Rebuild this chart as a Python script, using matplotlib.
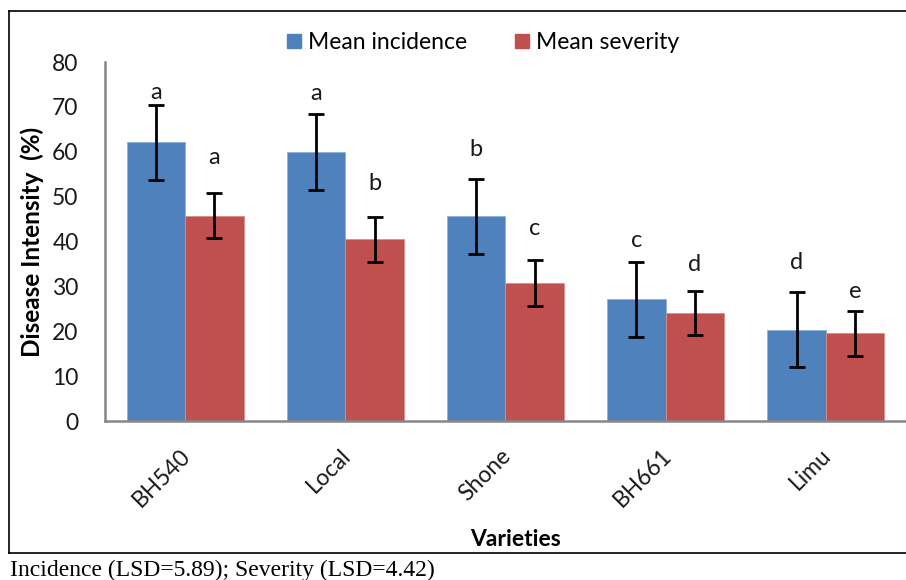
import numpy as np
import matplotlib.pyplot as plt
from matplotlib.lines import Line2D
from matplotlib.transforms import ScaledTranslation

varieties = ['BH540', 'Local', 'Shone', 'BH661', 'Limu']
incidence = [62.1, 60.0, 45.6, 27.1, 20.4]
incidence_err = [8.4, 8.5, 8.4, 8.4, 8.4]
severity = [45.8, 40.5, 30.7, 24.0, 19.6]
severity_err = [5.0, 5.0, 5.1, 4.9, 5.0]
inc_letters = ['a', 'a', 'b', 'c', 'd']
sev_letters = ['a', 'b', 'c', 'd', 'e']
inc_letter_y = [73.3, 73.0, 60.6, 40.3, 35.3]
sev_letter_y = [58.8, 53.0, 43.0, 35.0, 28.8]

plt.rcParams['font.family'] = ['Lato', 'DejaVu Sans']

fig = plt.figure(figsize=(9.06, 5.80), dpi=100)
ax = fig.add_axes([0.1159, 0.274, 0.884, 0.619])

x = np.arange(len(varieties))
w = 0.365
blue = '#4F81BD'
red = '#C0504D'
err_kw = dict(ecolor='black', elinewidth=2.0, capsize=6, capthick=2.0)

ax.bar(x - w / 2, incidence, w, color=blue, edgecolor='#8DB0DA', linewidth=0.6,
       yerr=incidence_err, error_kw=err_kw, label='Mean incidence')
ax.bar(x + w / 2, severity, w, color=red, edgecolor='#DB8C8A', linewidth=0.6,
       yerr=severity_err, error_kw=err_kw, label='Mean severity')

for i in range(len(varieties)):
    ax.text(x[i] - w / 2, inc_letter_y[i], inc_letters[i], ha='center', va='center',
            fontsize=17, color='#1a1a1a')
    ax.text(x[i] + w / 2, sev_letter_y[i], sev_letters[i], ha='center', va='center',
            fontsize=17, color='#1a1a1a')

ax.set_xlim(-0.5, 4.5)
ax.set_ylim(0, 80)
ax.set_yticks(range(0, 81, 10))
ax.set_xticks(x)
ax.set_xticklabels(varieties, rotation=45, ha='right', va='top', rotation_mode='anchor')
ax.tick_params(axis='both', length=0, labelsize=16.5, labelcolor='#1a1a1a')
ax.tick_params(axis='x', pad=17)
ax.tick_params(axis='y', pad=19)
shift = ScaledTranslation(-5 / 100, 0, fig.dpi_scale_trans)
for lbl in ax.get_xticklabels():
    lbl.set_transform(lbl.get_transform() + shift)

for s in ['top', 'right']:
    ax.spines[s].set_visible(False)
for s in ['left', 'bottom']:
    ax.spines[s].set_color('#868686')
    ax.spines[s].set_linewidth(1.8)

ax.set_ylabel('Disease Intensity  (%)', fontsize=17.5, fontweight='bold', labelpad=6)
ax.set_xlabel('Varieties', fontsize=16.5, fontweight='bold')
ax.xaxis.set_label_coords(0.512, -0.300)

handles = [Line2D([], [], marker='s', linestyle='none', markersize=10, color=blue),
           Line2D([], [], marker='s', linestyle='none', markersize=10, color=red)]
fig.legend(handles, ['Mean incidence', 'Mean severity'], loc='center',
           bbox_to_anchor=(0.532, 0.926), ncol=2, frameon=False, fontsize=16.5,
           handletextpad=0.2, columnspacing=2.0, handlelength=0.8)

# outer frame around the chart
fx0, fy0, fy1 = 9 / 906, 1 - 553 / 580, 1 - 11 / 580
fig.add_artist(Line2D([fx0, fx0], [fy0, fy1], color='black', lw=1.2, transform=fig.transFigure))
fig.add_artist(Line2D([fx0, 1.0], [fy1, fy1], color='black', lw=1.2, transform=fig.transFigure))
fig.add_artist(Line2D([fx0, 1.0], [fy0, fy0], color='black', lw=1.2, transform=fig.transFigure))

fig.text(10 / 906, 1 - 576 / 580, 'Incidence (LSD=5.89); Severity (LSD=4.42)',
         family=['Liberation Serif'], fontsize=17, ha='left', va='baseline')

fig.savefig('out.png', dpi=100)
